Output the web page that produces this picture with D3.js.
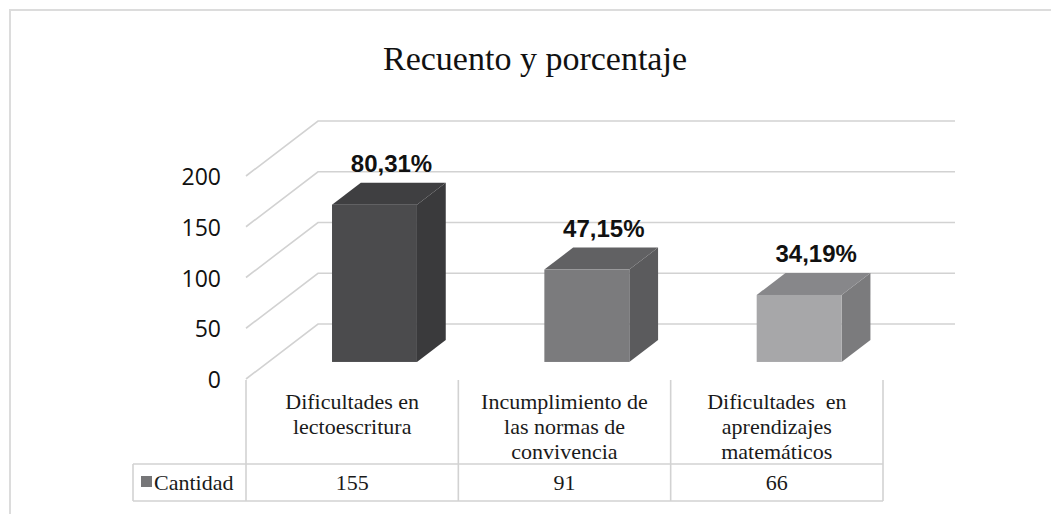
<!DOCTYPE html>
<html>
<head>
<meta charset="utf-8">
<script src="https://cdn.jsdelivr.net/npm/d3@7"></script>
<style>
  body { margin: 0; background: #fff; }
  text { white-space: pre; }
</style>
</head>
<body>
<figure id="chart" style="margin:0"></figure>
<script>
// data
const categories = ["Dificultades en lectoescritura", "Incumplimiento de las normas de convivencia", "Dificultades en aprendizajes matemáticos"];
const categoryLines = [["Dificultades en", "lectoescritura"], ["Incumplimiento de", "las normas de", "convivencia"], ["Dificultades  en", "aprendizajes", "matemáticos"]];
const cantidad = [155, 91, 66];
const percentLabels = ["80,31%", "47,15%", "34,19%"];
const yTicks = [0, 50, 100, 150, 200];
const seriesName = "Cantidad";

const width = 1051, height = 514;
const front = { left: 246, right: 883 };
const depth = { dx: 72, dy: -55 };   // full depth of the floor
const barFront = 0.31, barBack = 0.71; // depth fractions of the bar faces

const svg = d3.select("figure#chart")
  .append("svg")
  .attr("width", width)
  .attr("height", height);

// frame
svg.append("rect")
  .attr("x", 10).attr("y", 10)
  .attr("width", width + 20).attr("height", height + 20)
  .attr("fill", "none")
  .attr("stroke", "#dcdcdc")
  .attr("stroke-width", 2);

// title
svg.append("text")
  .attr("x", 535).attr("y", 70)
  .attr("text-anchor", "middle")
  .style("font-family", "'Liberation Serif', 'Times New Roman', serif")
  .style("font-size", "34px")
  .attr("fill", "#111")
  .text("Recuento y porcentaje");

// scales
const y = d3.scaleLinear().domain([0, 200]).range([379, 176]);
const x = d3.scaleBand().domain(categories).range([front.left, front.right]).padding(0);

// gridlines: side wall diagonal + back wall line
const grid = svg.append("g")
  .attr("fill", "none")
  .attr("stroke", "#d2d2d2")
  .attr("stroke-width", 1.6);
grid.selectAll("path")
  .data(yTicks)
  .enter()
  .append("path")
  .attr("d", d => {
    const y0 = y(d);
    return "M" + front.left + "," + y0 +
      "L" + (front.left + depth.dx) + "," + (y0 + depth.dy) +
      "L" + (front.right + depth.dx) + "," + (y0 + depth.dy);
  });

// y axis labels
svg.append("g")
  .selectAll("text")
  .data(yTicks)
  .enter()
  .append("text")
  .attr("x", 221)
  .attr("y", d => y(d) + 9)
  .attr("text-anchor", "end")
  .style("font-family", "'Open Sans', sans-serif")
  .style("font-size", "23px")
  .style("font-weight", "500")
  .attr("fill", "#111")
  .text(d => d);

// 3D bars
const faceColors = [
  { front: "#4b4b4d", side: "#3a3a3c", top: "#3f3f41" },
  { front: "#7b7b7d", side: "#5b5b5d", top: "#616163" },
  { front: "#a7a7a9", side: "#7b7b7d", top: "#87878a" }
];
const bw = x.bandwidth() * 0.4;
const bars = svg.append("g");
categories.forEach((c, i) => {
  const fx = x(c) + (x.bandwidth() - bw) / 2 + depth.dx * barFront;
  const oy = depth.dy * barFront;
  const ddx = depth.dx * (barBack - barFront);
  const ddy = depth.dy * (barBack - barFront);
  const top = y(cantidad[i]) + oy;
  const bottom = y(0) + oy;
  const g = bars.append("g");
  // side
  g.append("path")
    .attr("d", "M" + (fx + bw) + "," + top + "L" + (fx + bw + ddx) + "," + (top + ddy) +
      "L" + (fx + bw + ddx) + "," + (bottom + ddy) + "L" + (fx + bw) + "," + bottom + "Z")
    .attr("fill", faceColors[i].side);
  // top
  g.append("path")
    .attr("d", "M" + fx + "," + top + "L" + (fx + ddx) + "," + (top + ddy) +
      "L" + (fx + bw + ddx) + "," + (top + ddy) + "L" + (fx + bw) + "," + top + "Z")
    .attr("fill", faceColors[i].top);
  // front
  g.append("rect")
    .attr("x", fx).attr("y", top)
    .attr("width", bw).attr("height", bottom - top)
    .attr("fill", faceColors[i].front);
  // percent label
  g.append("text")
    .attr("x", fx + bw / 2 + 17)
    .attr("y", top + ddy - 11)
    .attr("text-anchor", "middle")
    .style("font-family", "'Liberation Sans', Arial, sans-serif")
    .style("font-weight", "bold")
    .style("font-size", "24px")
    .attr("fill", "#111")
    .text(percentLabels[i]);
});

// data table
const tableTop = 380, rowTop = 464, rowBottom = 501, tableLeft = 133;
const tbl = svg.append("g")
  .attr("stroke", "#d2d2d2")
  .attr("stroke-width", 1.6)
  .attr("fill", "none");
const edges = categories.map(c => x(c)).concat([front.right]);
tbl.selectAll("line.v")
  .data(edges)
  .enter()
  .append("line")
  .attr("x1", d => d).attr("x2", d => d)
  .attr("y1", tableTop).attr("y2", rowBottom);
tbl.append("line").attr("x1", tableLeft).attr("x2", front.right).attr("y1", rowTop).attr("y2", rowTop);
tbl.append("line").attr("x1", tableLeft).attr("x2", front.right).attr("y1", rowBottom).attr("y2", rowBottom);
tbl.append("line").attr("x1", tableLeft).attr("x2", tableLeft).attr("y1", rowTop).attr("y2", rowBottom);

const serif = "'Liberation Serif', 'Times New Roman', serif";
const cat = svg.append("g");
categories.forEach((c, i) => {
  const t = cat.append("text")
    .attr("text-anchor", "middle")
    .style("font-family", serif)
    .style("font-size", "22px")
    .attr("fill", "#1a1a1a");
  categoryLines[i].forEach((line, j) => {
    t.append("tspan")
      .attr("x", x(c) + x.bandwidth() / 2)
      .attr("y", 409 + j * 25)
      .text(line);
  });
  cat.append("text")
    .attr("x", x(c) + x.bandwidth() / 2)
    .attr("y", 490)
    .attr("text-anchor", "middle")
    .style("font-family", serif)
    .style("font-size", "22px")
    .attr("fill", "#1a1a1a")
    .text(cantidad[i]);
});

// legend key in table
svg.append("rect")
  .attr("x", 141).attr("y", 476)
  .attr("width", 11).attr("height", 11)
  .attr("fill", "#767678");
svg.append("text")
  .attr("x", 154).attr("y", 490)
  .style("font-family", serif)
  .style("font-size", "22px")
  .attr("fill", "#1a1a1a")
  .text(seriesName);
</script>
</body>
</html>
